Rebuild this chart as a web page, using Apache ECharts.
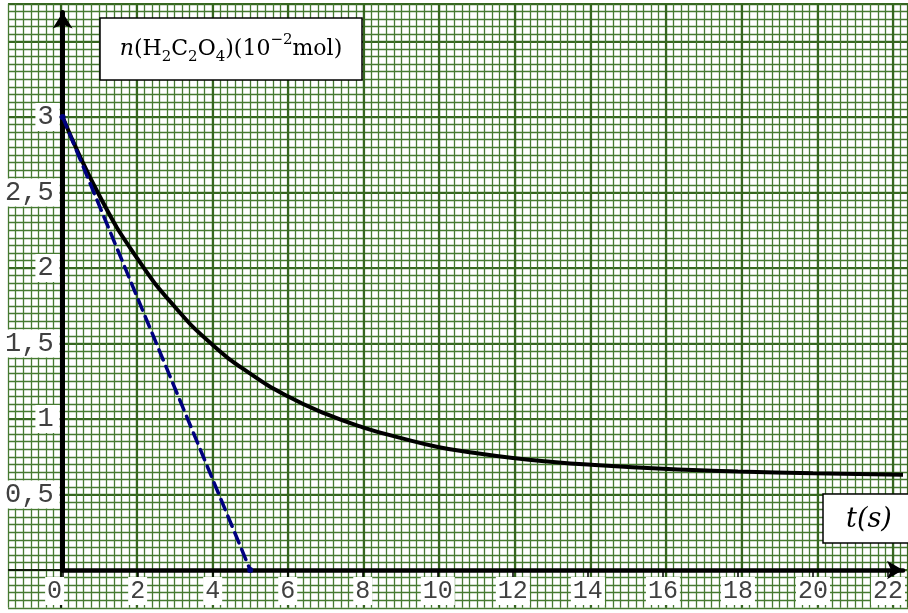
<!DOCTYPE html>
<html>
<head>
<meta charset="utf-8">
<title>n(H2C2O4) = f(t)</title>
<script src="https://cdn.jsdelivr.net/npm/echarts@6/dist/echarts.min.js"></script>
<style>
html, body { margin: 0; padding: 0; background: #fff; }
#chart { width: 908px; height: 613px; }
</style>
</head>
<body>
<div id="chart"></div>
<script>
// courbe n(H2C2O4) en fonction du temps
var timeValues = [0, 1, 2, 3, 4, 5, 6, 7, 8, 9, 10, 11, 12, 13, 14, 16, 18, 20, 22.4];
var amountValues = [3, 2.47, 2.06, 1.74, 1.49, 1.30, 1.15, 1.035, 0.945, 0.875, 0.815, 0.775, 0.742, 0.717, 0.698, 0.67, 0.652, 0.64, 0.63];
// tangente a l'origine
var tangentTime = [0, 5];
var tangentAmount = [3, 0];
// graduations
var xTickValues = [0, 2, 4, 6, 8, 10, 12, 14, 16, 18, 20, 22];
var yTickValues = [0.5, 1, 1.5, 2, 2.5, 3];
// prolongements fins des axes
var axisExtX = [[-1.4, 0], [0, 0]];
var axisExtY = [[0, -0.25], [0, 0]];

function pairs(xs, ys) {
    return xs.map(function (x, i) { return [x, ys[i]]; });
}

var minorLine = { show: true, lineStyle: { color: '#467a31', width: 1.3 } };
var majorLine = { show: true, lineStyle: { color: '#36661f', width: 2.2 } };
var hidden = { show: false };

function paperAxis(grid, min, max, interval, split) {
    return {
        type: 'value', gridIndex: grid, min: min, max: max, interval: interval,
        axisLine: hidden, axisTick: hidden, axisLabel: hidden,
        splitLine: split || hidden, z: 0
    };
}

var labelFont = { fontFamily: 'Liberation Mono', color: '#404040', backgroundColor: '#fff' };

var option = {
    animation: false,
    backgroundColor: '#fff',
    grid: [
        { left: 8.07, right: 0, top: 3.75, bottom: 5.25 },   // petits carreaux
        { left: 61, right: 0, top: 3.75, bottom: 5.25 },     // traits verticaux epais
        { left: 8.07, right: 0, top: 3.75, bottom: 43 },     // traits horizontaux epais
        { left: 61, right: 0, top: 12.5, bottom: 43 }        // le graphe
    ],
    xAxis: [
        paperAxis(0, -1.4, 22.4, 0.2, minorLine),
        paperAxis(1, 0, 22.4, 2, majorLine),
        paperAxis(2, -1.4, 22.4, 2),
        {
            type: 'value', gridIndex: 3, min: 0, max: 22.4, interval: 2, z: 5,
            axisLine: {
                onZero: false, symbol: ['none', 'arrow'], symbolSize: [14, 16],
                lineStyle: { color: '#000', width: 4.5 }
            },
            axisTick: { customValues: xTickValues, length: 7, lineStyle: { color: '#000', width: 1.5 } },
            axisLabel: {
                customValues: xTickValues, margin: 7,
                formatter: function (v) {
                    return v === 0 ? '{b|0}{gap| }' : '{b|' + v + '}';
                },
                rich: {
                    b: Object.assign({ fontSize: 25, padding: [2, 2, 1, 2] }, labelFont),
                    gap: { width: 16 }
                }
            },
            splitLine: hidden
        }
    ],
    yAxis: [
        paperAxis(0, -0.25, 3.75, 0.05, minorLine),
        paperAxis(1, 0, 1, 1),
        paperAxis(2, 0, 3.75, 0.5, majorLine),
        {
            type: 'value', gridIndex: 3, min: 0, max: 3.692, interval: 0.5, z: 5,
            axisLine: {
                onZero: false, symbol: ['none', 'arrow'], symbolSize: [15, 16],
                lineStyle: { color: '#000', width: 5 }
            },
            axisTick: { customValues: yTickValues, length: 6, lineStyle: { color: '#000', width: 1.5 } },
            axisLabel: {
                customValues: yTickValues, margin: 3,
                formatter: function (v) { return String(v).replace('.', ','); },
                fontSize: 27, fontFamily: 'Liberation Mono', color: '#404040',
                backgroundColor: '#fff', padding: [1, 6, 0, 2]
            },
            splitLine: hidden
        }
    ],
    graphic: [
        {
            type: 'rect', z: 20,
            shape: { x: 100, y: 18, width: 262, height: 62 },
            style: { fill: '#fff', stroke: '#000', lineWidth: 1.5 }
        },
        {
            type: 'text', z: 21, x: 231, y: 49,
            style: {
                text: '{i|n}{r|(H}{s|2}{r|C}{s|2}{r|O}{s|4}{r|)(10}{p|−2}{r|mol)}',
                align: 'center', verticalAlign: 'middle',
                rich: {
                    i: { fontFamily: 'DejaVu Serif', fontStyle: 'italic', fontSize: 22, lineHeight: 32, fill: '#000' },
                    r: { fontFamily: 'DejaVu Serif', fontSize: 22, lineHeight: 32, fill: '#000' },
                    s: { fontFamily: 'DejaVu Serif', fontSize: 15, lineHeight: 15, verticalAlign: 'bottom', fill: '#000' },
                    p: { fontFamily: 'DejaVu Serif', fontSize: 15, lineHeight: 15, verticalAlign: 'top', fill: '#000' }
                }
            }
        },
        {
            type: 'rect', z: 20,
            shape: { x: 823, y: 494, width: 100, height: 49 },
            style: { fill: '#fff', stroke: '#000', lineWidth: 1.5 }
        },
        {
            type: 'text', z: 21, x: 869, y: 520,
            style: {
                text: 't(s)', align: 'center', verticalAlign: 'middle',
                fontFamily: 'DejaVu Serif', fontStyle: 'italic', fontSize: 27, fill: '#000'
            }
        }
    ],
    series: [
        {
            type: 'line', xAxisIndex: 0, yAxisIndex: 0, data: axisExtX,
            symbol: 'none', silent: true, z: 3,
            lineStyle: { color: '#000', width: 1.5 }
        },
        {
            type: 'line', xAxisIndex: 0, yAxisIndex: 0, data: axisExtY,
            symbol: 'none', silent: true, z: 3,
            lineStyle: { color: '#000', width: 1.5 }
        },
        {
            name: 'n(H2C2O4)', type: 'line', xAxisIndex: 3, yAxisIndex: 3,
            data: pairs(timeValues, amountValues),
            smooth: 0.5, symbol: 'none', clip: false, z: 6,
            lineStyle: { color: '#000', width: 4 }
        },
        {
            name: 'tangente', type: 'line', xAxisIndex: 3, yAxisIndex: 3,
            data: pairs(tangentTime, tangentAmount),
            symbol: 'circle', symbolSize: 6, z: 7,
            itemStyle: { color: '#00007f' },
            lineStyle: { color: '#00007f', width: 3.5, type: [11, 7], cap: 'round' }
        }
    ]
};

var myEcharts = echarts.init(document.getElementById('chart'));
myEcharts.setOption(option);
</script>
</body>
</html>
